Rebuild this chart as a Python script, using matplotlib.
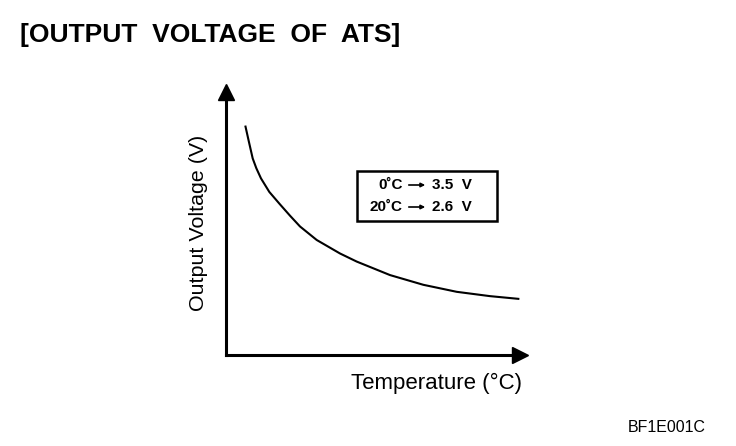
import numpy as np
import matplotlib.pyplot as plt

# curve (arbitrary temperature scale, volts)
temperature = [-12.25, -10.86, -9.39, -7.96, -6.09, -2.79, 1.26, 5.43, 9.41, 16.04,
               25.30, 31.94, 45.17, 58.41, 71.68, 84.91, 96.16]
voltage = [4.23, 3.94, 3.64, 3.46, 3.27, 3.02, 2.80, 2.58, 2.38, 2.13,
           1.88, 1.73, 1.48, 1.30, 1.17, 1.09, 1.04]

key_temps = ["0˚C", "20˚C"]
key_volts = ["3.5 V", "2.6 V"]

title = "[OUTPUT  VOLTAGE  OF  ATS]"
code = "BF1E001C"

plt.rcParams['font.family'] = ['Liberation Sans', 'DejaVu Sans']

fig = plt.figure(figsize=(7.36, 4.46), dpi=100)
W, H = 294, 263
ax = fig.add_axes([226/736, 91/446, W/736, H/446])

ax.plot(temperature, voltage, color='black', lw=1.5, solid_joinstyle='round')
ax.set_xlim(-20, -20 + W * 120 / 302)
ax.set_ylim(0, H / 54)

for side in ['top', 'right']:
    ax.spines[side].set_visible(False)
for side in ['left', 'bottom']:
    ax.spines[side].set_linewidth(2.2)
ax.set_xticks([])
ax.set_yticks([])

# arrow heads on the axes
ax.plot(0, 1, marker='^', color='black', markersize=11, transform=ax.transAxes, clip_on=False)
ax.plot(1, 0, marker='>', color='black', markersize=11, transform=ax.transAxes, clip_on=False)


def fx(px):
    return (px - 226) / W


def fy(py):
    return (355 - py) / H


ax.set_xlabel("Temperature (°C)", fontsize=16)
ax.xaxis.set_label_coords(fx(522), fy(373))
ax.xaxis.label.set_ha('right')
ax.xaxis.label.set_va('top')
ax.set_ylabel("Output Voltage (V)", fontsize=15.4)
ax.yaxis.set_label_coords(fx(208), 0.5 + (355 - 222.5 - H / 2) / H)

# key box
ax.add_patch(plt.Rectangle((fx(357), fy(221.5)), fx(497) - fx(357), fy(171) - fy(221.5),
                           fill=False, lw=1.8, edgecolor='black', transform=ax.transAxes))
rows_y = [fy(185), fy(207)]
for t, v, y in zip(key_temps, key_volts, rows_y):
    ax.text(fx(403), y, t, ha='right', va='center', fontsize=11,
            fontweight='bold', transform=ax.transAxes)
    ax.annotate("", xy=(fx(428), y), xytext=(fx(406), y),
                xycoords='axes fraction',
                arrowprops=dict(arrowstyle='-|>', color='black', lw=1.2, mutation_scale=6))
    ax.text(fx(432), y, v.replace(" ", "  "), ha='left', va='center', fontsize=11,
            fontweight='bold', transform=ax.transAxes)

fig.text(20/736, 1 - 35/446, title, fontsize=19, fontweight='bold', ha='left', va='center')
fig.text(706/736, 1 - 428/446, code, fontsize=11.5, ha='right', va='center')

fig.savefig("out.png", dpi=100)
